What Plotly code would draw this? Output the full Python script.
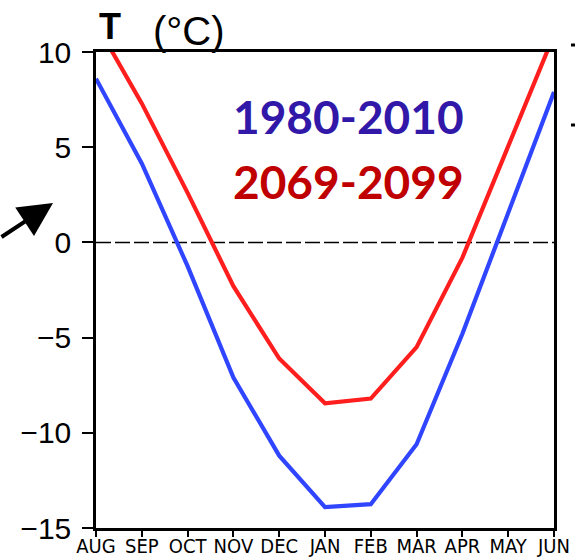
import plotly.graph_objects as go

# Monthly mean temperature (°C), August through June
months = ["AUG", "SEP", "OCT", "NOV", "DEC", "JAN", "FEB", "MAR", "APR", "MAY", "JUN"]
t_1980_2010 = [8.6, 4.15, -1.25, -7.1, -11.2, -13.9, -13.75, -10.6, -4.8, 1.55, 7.9]
t_2069_2099 = [11.5, 7.3, 2.6, -2.3, -6.1, -8.45, -8.2, -5.5, -0.8, 5.05, 10.9]
y_ticks = [-15, -10, -5, 0, 5, 10]

x_pos = list(range(len(months)))

fig = go.Figure()
fig.add_trace(go.Scatter(x=x_pos, y=t_1980_2010, mode="lines",
                         line=dict(color="#2F45FF", width=4.2), showlegend=False))
fig.add_trace(go.Scatter(x=x_pos, y=t_2069_2099, mode="lines",
                         line=dict(color="#FF1E1E", width=4.2), showlegend=False))

# dashed zero reference line
fig.add_shape(type="line", xref="x", yref="y", x0=x_pos[0], x1=x_pos[-1], y0=0, y1=0,
              line=dict(color="black", width=1.5, dash="15px,4px"), layer="below")

fig.update_layout(
    width=579, height=559,
    margin=dict(l=96, r=25, t=52, b=31),
    paper_bgcolor="white", plot_bgcolor="white",
    showlegend=False,
    xaxis=dict(range=[x_pos[0], x_pos[-1]], tickvals=x_pos, ticktext=months,
               automargin=False, showgrid=False, zeroline=False,
               showline=True, linecolor="black", linewidth=2.5, mirror=True,
               ticks="outside", ticklen=6, tickwidth=2, tickcolor="black",
               ticklabelstandoff=-8,
               tickfont=dict(family="DejaVu Sans Condensed, Liberation Sans Narrow, Liberation Sans",
                             size=20, color="black")),
    yaxis=dict(range=[y_ticks[0], y_ticks[-1]], tickvals=y_ticks,
               automargin=False, showgrid=False, zeroline=False,
               showline=True, linecolor="black", linewidth=2.5, mirror=True,
               ticks="outside", ticklen=11, tickwidth=2, tickcolor="black",
               ticklabelstandoff=5,
               tickfont=dict(family="Liberation Sans, Arial", size=30, color="black")),
)

# axis title above the plot
fig.add_annotation(xref="paper", yref="paper", x=(110 - 96) / 458, y=(528 - 27) / 476,
                   text="<b>T</b>", showarrow=False, xanchor="center", yanchor="middle",
                   font=dict(family="Liberation Sans, Arial", size=36, color="black"))
fig.add_annotation(xref="paper", yref="paper", x=(189 - 96) / 458, y=(528 - 31) / 476,
                   text="(°C)", showarrow=False, xanchor="center", yanchor="middle",
                   font=dict(family="Liberation Sans, Arial", size=40, color="black"))

# period labels
fig.add_annotation(xref="paper", yref="paper", x=(348 - 96) / 458, y=(528 - 117) / 476,
                   text="<b>1980-2010</b>", showarrow=False, xanchor="center", yanchor="middle",
                   font=dict(family="Lato, Open Sans", size=46, color="#3218A8"))
fig.add_annotation(xref="paper", yref="paper", x=(348 - 96) / 458, y=(528 - 181) / 476,
                   text="<b>2069-2099</b>", showarrow=False, xanchor="center", yanchor="middle",
                   font=dict(family="Lato, Open Sans", size=46, color="#C00000"))

# pointer arrow on the left
fig.add_annotation(xref="paper", yref="paper", x=(53 - 96) / 458, y=(528 - 203) / 476,
                   ax=-70, ay=35, axref="pixel", ayref="pixel", text="",
                   showarrow=True, arrowhead=2, arrowsize=1.7, arrowwidth=4, arrowcolor="black")

# small marks at the right edge
for py in (45, 125):
    fig.add_shape(type="rect", xref="paper", yref="paper",
                  x0=(571 - 96) / 458, x1=(575 - 96) / 458,
                  y0=(528 - py - 1.5) / 476, y1=(528 - py + 1.5) / 476,
                  fillcolor="black", line=dict(width=0))

fig.write_html("out.html")
